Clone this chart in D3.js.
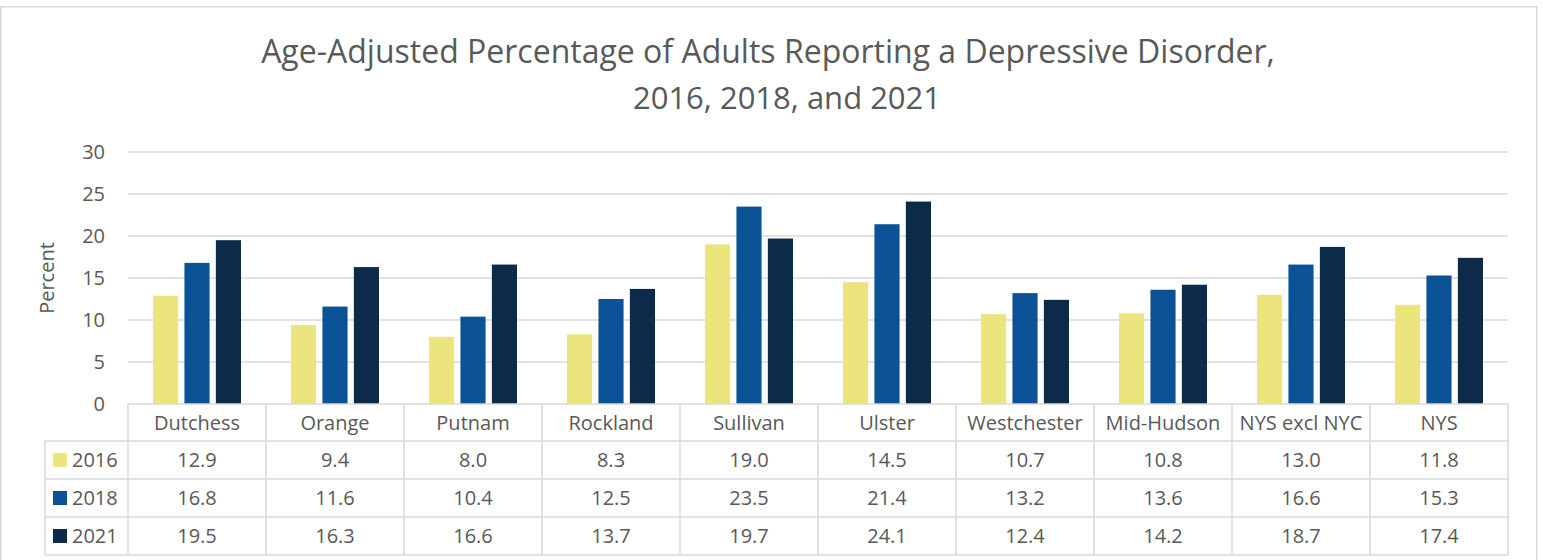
<!DOCTYPE html>
<html>
<head>
<meta charset="utf-8">
<script src="https://cdn.jsdelivr.net/npm/d3@7"></script>
<style>
	body { margin: 0; background: #fff; }
	text { font-family: 'Open Sans', sans-serif; fill: #595959; }
</style>
</head>
<body>
<div class="chart"></div>
<script>
//data
const counties = ['Dutchess', 'Orange', 'Putnam', 'Rockland', 'Sullivan', 'Ulster', 'Westchester', 'Mid-Hudson', 'NYS excl NYC', 'NYS'];
const years = ['2016', '2018', '2021'];
const values2016 = [12.9, 9.4, 8.0, 8.3, 19.0, 14.5, 10.7, 10.8, 13.0, 11.8];
const values2018 = [16.8, 11.6, 10.4, 12.5, 23.5, 21.4, 13.2, 13.6, 16.6, 15.3];
const values2021 = [19.5, 16.3, 16.6, 13.7, 19.7, 24.1, 12.4, 14.2, 18.7, 17.4];
const yTicks = [0, 5, 10, 15, 20, 25, 30];
const colors = ['#ece57e', '#0b5296', '#0c2b4b'];

const series = [values2016, values2018, values2021];

const width = 1543;
const height = 560;

//plot area, the data table hangs underneath it
const margin = { top: 152, left: 128, right: 35 };
const plotBottom = 404;
const rowH = 38;
const headerH = 37;
const tableLeft = 45;
const fontSize = '20px';

const svg = d3
	.select('.chart')
	.append('svg')
	.attr('width', width)
	.attr('height', height);

//outer chart border
svg
	.append('rect')
	.attr('x', 0.75)
	.attr('y', 6.75)
	.attr('width', 1536)
	.attr('height', 600)
	.attr('fill', 'none')
	.attr('stroke', '#d9d9d9')
	.attr('stroke-width', 1.5);

//title
svg
	.append('text')
	.attr('x', 768)
	.attr('y', 63)
	.attr('text-anchor', 'middle')
	.style('font-size', '32px')
	.text('Age-Adjusted Percentage of Adults Reporting a Depressive Disorder,');

svg
	.append('text')
	.attr('x', 787)
	.attr('y', 109)
	.attr('text-anchor', 'middle')
	.style('font-size', '31px')
	.text('2016, 2018, and 2021');

const x0 = d3
	.scaleBand()
	.domain(counties)
	.range([ margin.left, width - margin.right ]);

const x1 = d3
	.scaleBand()
	.domain(years)
	.range([ 25, x0.bandwidth() - 25 ])
	.paddingInner(0.2);

const y = d3
	.scaleLinear()
	.domain([ 0, 30 ])
	.range([ plotBottom, margin.top ]);

//gridlines
svg
	.append('g')
	.selectAll('line')
	.data(yTicks.filter((d) => d > 0))
	.enter()
	.append('line')
	.attr('x1', margin.left)
	.attr('x2', width - margin.right)
	.attr('y1', (d) => y(d))
	.attr('y2', (d) => y(d))
	.attr('stroke', '#d9d9d9')
	.attr('stroke-width', 1.3);

//y axis labels
const yAxis = svg
	.append('g')
	.attr('transform', `translate(${margin.left - 23}, 0)`)
	.call(d3.axisLeft(y).tickValues(yTicks).tickSize(0).tickPadding(0));

yAxis.select('.domain').remove();
yAxis.selectAll('text').style('font-size', fontSize).attr('fill', '#595959').style('font-family', "'Open Sans', sans-serif");

//y axis title
svg
	.append('text')
	.attr('transform', `translate(54, ${(margin.top + plotBottom) / 2}) rotate(-90)`)
	.attr('text-anchor', 'middle')
	.style('font-size', '20px')
	.text('Percent');

//bars
const groups = svg
	.append('g')
	.selectAll('g')
	.data(counties)
	.enter()
	.append('g')
	.attr('transform', (d) => `translate(${x0(d)}, 0)`);

groups
	.selectAll('rect')
	.data((d, i) => years.map((yr, j) => ({ year: yr, value: series[j][i], color: colors[j] })))
	.enter()
	.append('rect')
	.attr('x', (d) => x1(d.year))
	.attr('y', (d) => y(d.value))
	.attr('width', x1.bandwidth())
	.attr('height', (d) => plotBottom - y(d.value))
	.attr('fill', (d) => d.color);

//data table
const table = svg.append('g').attr('stroke', '#d9d9d9').attr('stroke-width', 1.5);
const tableBottom = plotBottom + headerH + rowH * 3;

//horizontal lines
table
	.append('line')
	.attr('x1', margin.left)
	.attr('x2', width - margin.right)
	.attr('y1', plotBottom)
	.attr('y2', plotBottom);

[0, 1, 2, 3].forEach((i) => {
	const yy = plotBottom + headerH + rowH * i;
	table
		.append('line')
		.attr('x1', tableLeft)
		.attr('x2', width - margin.right)
		.attr('y1', yy)
		.attr('y2', yy);
});

//vertical lines
x0.domain().concat([ null ]).forEach((c) => {
	const xx = c === null ? width - margin.right : x0(c);
	table
		.append('line')
		.attr('x1', xx)
		.attr('x2', xx)
		.attr('y1', plotBottom)
		.attr('y2', tableBottom);
});

table
	.append('line')
	.attr('x1', tableLeft)
	.attr('x2', tableLeft)
	.attr('y1', plotBottom + headerH)
	.attr('y2', tableBottom);

//category header cells
svg
	.append('g')
	.selectAll('text')
	.data(counties)
	.enter()
	.append('text')
	.attr('x', (d) => x0(d) + x0.bandwidth() / 2)
	.attr('y', plotBottom + headerH / 2)
	.attr('dy', '0.35em')
	.attr('text-anchor', 'middle')
	.style('font-size', fontSize)
	.text((d) => d);

//value rows with legend keys
years.forEach((yr, j) => {
	const rowMid = plotBottom + headerH + rowH * j + rowH / 2;

	svg
		.append('rect')
		.attr('x', 53)
		.attr('y', rowMid - 7)
		.attr('width', 14)
		.attr('height', 14)
		.attr('fill', colors[j]);

	svg
		.append('text')
		.attr('x', 72)
		.attr('y', rowMid)
		.attr('dy', '0.35em')
		.style('font-size', fontSize)
		.text(yr);

	svg
		.append('g')
		.selectAll('text')
		.data(series[j])
		.enter()
		.append('text')
		.attr('x', (d, i) => x0(counties[i]) + x0.bandwidth() / 2)
		.attr('y', rowMid)
		.attr('dy', '0.35em')
		.attr('text-anchor', 'middle')
		.style('font-size', fontSize)
		.text((d) => d3.format('.1f')(d));
});
</script>
</body>
</html>
